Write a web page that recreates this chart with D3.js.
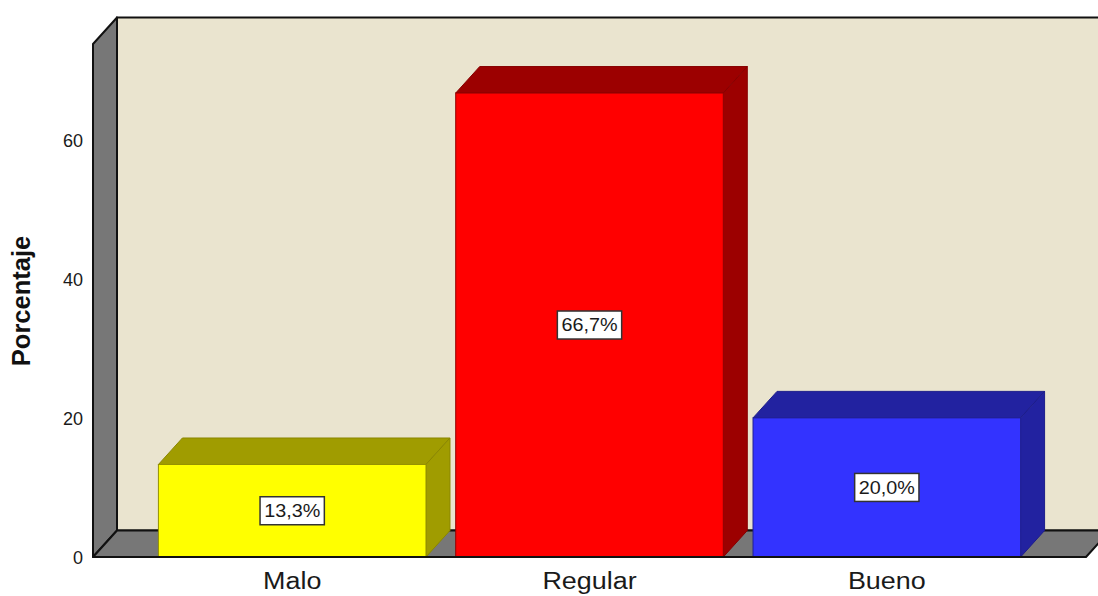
<!DOCTYPE html>
<html>
<head>
<meta charset="utf-8">
<script src="https://cdn.jsdelivr.net/npm/d3@7"></script>
<style>
  html, body { margin: 0; padding: 0; background: #ffffff; }
  svg { display: block; }
</style>
</head>
<body>
<svg id="chart" width="1098" height="596"></svg>
<script>
// Data
const categories = ["Malo", "Regular", "Bueno"];
const percentages = [13.3, 66.7, 20.0];
const valueLabels = ["13,3%", "66,7%", "20,0%"];
const tickValues = [0, 20, 40, 60];
const axisTitle = "Porcentaje";

// Bar colours: front face, top/side face
const frontColors = ["#ffff00", "#ff0000", "#3333ff"];
const shadeColors = ["#a09c00", "#9c0000", "#2222a0"];

const svg = d3.select("#chart");
const font = "Liberation Sans, Arial, sans-serif";

// Layout of the 3D box
const floorY = 557;      // front floor line
const topY = 44;         // front top of the value range
const left = 93, right = 1086;
const depthX = 24, depthY = -26.5;
const yMax = 73.75;

const y = d3.scaleLinear().domain([0, yMax]).range([floorY, topY]);
const x = d3.scaleBand().domain(categories).range([left, right])
  .paddingInner(0.1).paddingOuter(0.22);

const poly = pts => pts.map(p => p.join(",")).join(" ");

// Back wall
svg.append("polygon")
  .attr("points", poly([
    [left + depthX, y(yMax) + depthY], [right + depthX + 40, y(yMax) + depthY],
    [right + depthX + 40, floorY + depthY], [left + depthX, floorY + depthY]
  ]))
  .attr("fill", "#eae4cf").attr("stroke", "#111").attr("stroke-width", 2);

// Left wall
svg.append("polygon")
  .attr("points", poly([
    [left, y(yMax)], [left + depthX, y(yMax) + depthY],
    [left + depthX, floorY + depthY], [left, floorY]
  ]))
  .attr("fill", "#777777").attr("stroke", "#111").attr("stroke-width", 2)
  .attr("stroke-linejoin", "round");

// Floor
svg.append("polygon")
  .attr("points", poly([
    [left, floorY], [right, floorY],
    [right + depthX, floorY + depthY], [left + depthX, floorY + depthY]
  ]))
  .attr("fill", "#777777").attr("stroke", "#111").attr("stroke-width", 2)
  .attr("stroke-linejoin", "round");

// Bars
const bars = svg.selectAll("g.bar")
  .data(categories.map((c, i) => ({ c, v: percentages[i], i })))
  .join("g").attr("class", "bar");

bars.each(function (d) {
  const g = d3.select(this);
  const x0 = x(d.c), x1 = x(d.c) + x.bandwidth();
  const yt = y(d.v), yb = y(0);
  const edge = d3.color(shadeColors[d.i]).darker(0.4);
  // top face
  g.append("polygon")
    .attr("points", poly([[x0, yt], [x0 + depthX, yt + depthY], [x1 + depthX, yt + depthY], [x1, yt]]))
    .attr("fill", shadeColors[d.i]).attr("stroke", edge).attr("stroke-width", 1);
  // side face
  g.append("polygon")
    .attr("points", poly([[x1, yt], [x1 + depthX, yt + depthY], [x1 + depthX, yb + depthY], [x1, yb]]))
    .attr("fill", shadeColors[d.i]).attr("stroke", edge).attr("stroke-width", 1);
  // front face
  g.append("rect")
    .attr("x", x0).attr("y", yt).attr("width", x1 - x0).attr("height", yb - yt)
    .attr("fill", frontColors[d.i]).attr("stroke", d3.color(shadeColors[d.i]).darker(0.2)).attr("stroke-width", 1);
});

// Floor front edge redrawn over bar bottoms
svg.append("line")
  .attr("x1", left).attr("x2", right).attr("y1", floorY).attr("y2", floorY)
  .attr("stroke", "#111").attr("stroke-width", 2);

// Value labels in boxes
bars.each(function (d) {
  const g = d3.select(this);
  const cx = x(d.c) + x.bandwidth() / 2;
  const cy = (y(d.v) + y(0)) / 2;
  const sx = 1.1;
  const t = g.append("text")
    .attr("transform", `translate(${cx},${cy}) scale(${sx},1)`)
    .attr("text-anchor", "middle").attr("dominant-baseline", "central")
    .attr("font-family", font)
    .attr("font-size", 18).attr("fill", "#1a1a1a")
    .text(valueLabels[d.i]);
  const w = t.node().getBBox().width * sx;
  g.insert("rect", "text")
    .attr("x", cx - w / 2 - 4).attr("y", cy - 14).attr("width", w + 8).attr("height", 28)
    .attr("fill", "#ffffff").attr("stroke", "#333").attr("stroke-width", 1.5);
});

// Y axis tick labels
svg.selectAll("text.tick")
  .data(tickValues)
  .join("text").attr("class", "tick")
  .attr("x", 83).attr("y", d => y(d) + 1)
  .attr("text-anchor", "end").attr("dominant-baseline", "central")
  .attr("font-family", font)
  .attr("font-size", 18).attr("fill", "#1a1a1a")
  .text(d => d);

// Category labels
svg.selectAll("text.cat")
  .data(categories)
  .join("text").attr("class", "cat")
  .attr("transform", d => `translate(${x(d) + x.bandwidth() / 2},589) scale(1.17,1)`)
  .attr("text-anchor", "middle")
  .attr("font-family", font)
  .attr("font-size", 23).attr("fill", "#1a1a1a")
  .text(d => d);

// Axis title
svg.append("text")
  .attr("transform", "translate(30,301) rotate(-90)")
  .attr("text-anchor", "middle")
  .attr("font-family", font)
  .attr("font-weight", "bold")
  .attr("font-size", 25.5).attr("fill", "#111")
  .text(axisTitle);
</script>
</body>
</html>
